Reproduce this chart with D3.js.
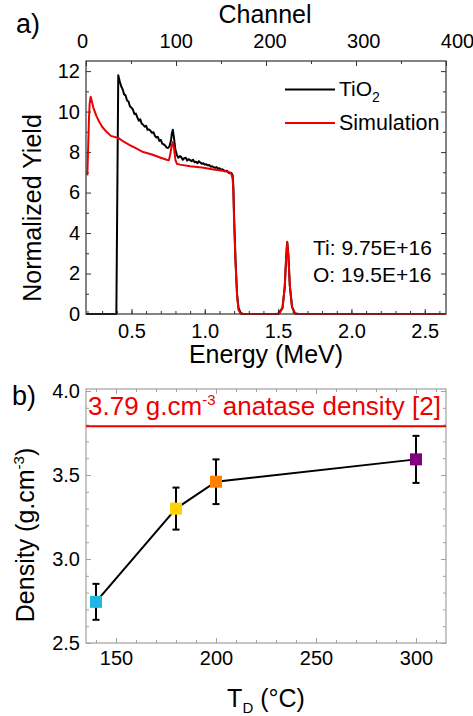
<!DOCTYPE html>
<html><head><meta charset="utf-8">
<script src="https://cdn.jsdelivr.net/npm/d3@7"></script>
<style>
body{margin:0;background:#fff}
text{font-family:"Liberation Sans",Arial,Helvetica,sans-serif}
</style>
</head><body>
<svg id="c" width="473" height="716"></svg>
<script>
// ---------- Panel a data ----------
const energyTiO2 = [0.19,0.397,0.41,0.42,0.43,0.44,0.45,0.46,0.47,0.48,0.49,0.50,0.51,0.52,0.53,0.54,0.55,0.56,0.57,0.58,0.59,0.60,0.61,0.62,0.63,0.64,0.65,0.66,0.67,0.68,0.69,0.70,0.71,0.72,0.73,0.74,0.75,0.76,0.77,0.775,0.782,0.79,0.80,0.81,0.82,0.83,0.84,0.85,0.86,0.87,0.88,0.89,0.90,0.91,0.92,0.93,0.94,0.95,0.96,0.97,0.98,0.99,1.00,1.01,1.02,1.03,1.04,1.05,1.06,1.07,1.08,1.09,1.10,1.11,1.12,1.13,1.14,1.15,1.16,1.17,1.18,1.19,1.195,1.20,1.21,1.22,1.23,1.245,1.26,1.50,1.53,1.545,1.555,1.562,1.57,1.58,1.595,1.615,1.64,2.645];
const yieldTiO2  = [0,0,11.8,11.5,11.25,11.1,10.85,10.8,10.55,10.5,10.25,10.2,10.1,9.88,9.9,9.72,9.55,9.62,9.4,9.35,9.25,9.3,9.1,9.12,9.05,8.95,8.98,8.8,8.72,8.75,8.55,8.6,8.42,8.38,8.32,8.22,8.2,8.3,8.6,8.9,9.1,8.7,8.1,7.85,7.72,7.8,7.75,7.62,7.7,7.72,7.58,7.65,7.6,7.55,7.62,7.5,7.52,7.45,7.55,7.48,7.42,7.45,7.38,7.4,7.35,7.36,7.28,7.3,7.25,7.22,7.26,7.18,7.2,7.12,7.15,7.1,7.05,7.08,7.0,6.95,6.98,6.85,6.3,4.8,2.6,1.0,0.3,0.05,0,0,0.3,1.3,2.8,3.55,2.9,1.4,0.35,0.03,0,0];

const energySim = [0.199,0.205,0.21,0.215,0.222,0.23,0.24,0.26,0.28,0.30,0.33,0.36,0.41,0.45,0.50,0.52,0.58,0.64,0.70,0.74,0.755,0.765,0.775,0.782,0.79,0.80,0.81,0.83,0.90,0.98,1.05,1.12,1.16,1.18,1.19,1.195,1.20,1.21,1.22,1.23,1.245,1.26,1.48,1.51,1.53,1.545,1.555,1.562,1.57,1.58,1.595,1.615,1.64,2.645];
const yieldSim  = [6.85,8.3,9.6,10.4,10.73,10.5,10.2,9.8,9.5,9.25,9.0,8.8,8.7,8.5,8.3,8.23,8.0,7.88,7.72,7.62,7.6,7.9,8.35,8.5,8.2,7.6,7.42,7.38,7.3,7.24,7.15,7.08,7.03,6.95,6.7,6.0,4.5,2.5,0.9,0.2,0.02,0,0,0.03,0.3,1.3,2.8,3.57,2.9,1.4,0.35,0.03,0,0];

const energyTicks = [0.5,1.0,1.5,2.0,2.5];
const channelTicks = [0,100,200,300,400];
const yieldTicks = [0,2,4,6,8,10,12];
const legendLabels = ["TiO", "Simulation"];
const annotLines = ["Ti: 9.75E+16", "O: 19.5E+16"];

// ---------- Panel b data ----------
const tempD = [140,180,200,300];
const density = [2.745,3.30,3.46,3.593];
const densityErr = [0.107,0.125,0.133,0.14];
const markerColors = ["#1fb6e3","#ffd200","#ff7f00","#800080"];
const anataseDensity = 3.79;
const tempTicks = [150,200,250,300];
const densityTicks = [2.5,3.0,3.5,4.0];

const svg = d3.select("#c");
const FONT_T = 20;

// ---------- Panel a ----------
const ax = {l:86, r:446, t:61, b:314};
const xE = d3.scaleLinear().domain([0.19,2.645]).range([ax.l, ax.r]);
const xCh = d3.scaleLinear().domain([0,400]).range([ax.l, ax.r]);
const xChLab = d3.scaleLinear().domain([0,400]).range([82,457]);
const yA = d3.scaleLinear().domain([0,12.5]).range([ax.b, ax.t]);

const ga = svg.append("g");
const frameA = "#333";

function styleAxis(g, col){
  g.select(".domain").remove();
  g.selectAll("line").attr("stroke", col).attr("stroke-width",1);
  g.selectAll("text").attr("font-size",FONT_T).attr("fill","#000")
   .attr("font-family",'"Liberation Sans",Arial,sans-serif');
}
// bottom energy axis
ga.append("g").attr("transform",`translate(0,${ax.b})`)
  .call(d3.axisBottom(xE).tickValues(d3.range(0.2,2.65,0.1)).tickSize(-3).tickFormat(""))
  .call(g=>styleAxis(g,frameA));
ga.append("g").attr("transform",`translate(0,${ax.b})`)
  .call(d3.axisBottom(xE).tickValues(energyTicks).tickSize(-5).tickPadding(10).tickFormat(d3.format(".1f")))
  .call(g=>styleAxis(g,frameA));
// top channel ticks
ga.append("g").attr("transform",`translate(0,${ax.t})`)
  .call(d3.axisTop(xCh).tickValues([50,150,250,350]).tickSize(-3).tickFormat(""))
  .call(g=>styleAxis(g,frameA));
ga.append("g").attr("transform",`translate(0,${ax.t})`)
  .call(d3.axisTop(xCh).tickValues(channelTicks).tickSize(-5).tickFormat(""))
  .call(g=>styleAxis(g,frameA));
ga.append("g").attr("transform",`translate(0,${ax.t})`)
  .call(d3.axisTop(xChLab).tickValues(channelTicks).tickSize(0).tickPadding(13))
  .call(g=>{styleAxis(g,frameA); g.selectAll("line").remove();});
// left / right y
ga.append("g").attr("transform",`translate(${ax.l},0)`)
  .call(d3.axisLeft(yA).tickValues([1,3,5,7,9,11]).tickSize(-3).tickFormat(""))
  .call(g=>styleAxis(g,frameA));
ga.append("g").attr("transform",`translate(${ax.l},0)`)
  .call(d3.axisLeft(yA).tickValues(yieldTicks).tickSize(-5).tickPadding(6).tickFormat(d3.format("d")))
  .call(g=>styleAxis(g,frameA));
ga.append("g").attr("transform",`translate(${ax.r},0)`)
  .call(d3.axisRight(yA).tickValues([1,3,5,7,9,11]).tickSize(-3).tickFormat(""))
  .call(g=>styleAxis(g,frameA));
ga.append("g").attr("transform",`translate(${ax.r},0)`)
  .call(d3.axisRight(yA).tickValues(yieldTicks).tickSize(-5).tickFormat(""))
  .call(g=>styleAxis(g,frameA));

const lineA = d3.line().x(d=>xE(d[0])).y(d=>yA(d[1]));
ga.append("path").datum(d3.zip(energyTiO2,yieldTiO2)).attr("d",lineA)
  .attr("fill","none").attr("stroke","#000").attr("stroke-width",2).attr("stroke-linejoin","round");
ga.append("path").datum(d3.zip(energySim,yieldSim)).attr("d",lineA)
  .attr("fill","none").attr("stroke","#ee0000").attr("stroke-width",2).attr("stroke-linejoin","round");

ga.append("rect").attr("x",ax.l).attr("y",ax.t).attr("width",ax.r-ax.l).attr("height",ax.b-ax.t)
  .attr("fill","none").attr("stroke",frameA).attr("stroke-width",1.2);

// legend
const leg = ga.append("g");
[["#000",89.5],["#ee0000",123]].forEach((c,i)=>{
  leg.append("line").attr("x1",285).attr("x2",335).attr("y1",c[1]).attr("y2",c[1])
    .attr("stroke",c[0]).attr("stroke-width",2);
});
const t1 = leg.append("text").attr("x",339).attr("y",96).attr("font-size",21).text(legendLabels[0]);
t1.append("tspan").attr("font-size",14).attr("dy",6).text("2");
leg.append("text").attr("x",339).attr("y",130).attr("font-size",21.5).text(legendLabels[1]);
annotLines.forEach((s,i)=>{
  ga.append("text").attr("x",313).attr("y",255+i*27).attr("font-size",21).text(s);
});

// titles
svg.append("text").attr("x",16).attr("y",33).attr("font-size",27).text("a)");
svg.append("text").attr("x",265).attr("y",23).attr("font-size",25).attr("text-anchor","middle").text("Channel");
svg.append("text").attr("x",266).attr("y",363).attr("font-size",25).attr("text-anchor","middle").text("Energy (MeV)");
svg.append("text").attr("transform","translate(41,208) rotate(-90)").attr("font-size",25)
  .attr("text-anchor","middle").text("Normalized Yield");

// ---------- Panel b ----------
const bx = {l:86, r:446, t:389, b:643};
const xT = d3.scaleLinear().domain([135,315]).range([bx.l,bx.r]);
const yD = d3.scaleLinear().domain([2.5,4.0]).range([bx.b,391]);
const gb = svg.append("g");
const frameB = "#a0a0a0";

gb.append("g").attr("transform",`translate(0,${bx.b})`)
  .call(d3.axisBottom(xT).tickValues(d3.range(140,315,10)).tickSize(-3).tickFormat(""))
  .call(g=>styleAxis(g,frameB));
gb.append("g").attr("transform",`translate(0,${bx.b})`)
  .call(d3.axisBottom(xT).tickValues(tempTicks).tickSize(-5).tickPadding(8).tickFormat(d3.format("d")))
  .call(g=>styleAxis(g,frameB));
gb.append("g").attr("transform",`translate(0,${bx.t})`)
  .call(d3.axisTop(xT).tickValues(d3.range(140,315,10)).tickSize(-3).tickFormat(""))
  .call(g=>styleAxis(g,frameB));
gb.append("g").attr("transform",`translate(0,${bx.t})`)
  .call(d3.axisTop(xT).tickValues(tempTicks).tickSize(-5).tickFormat(""))
  .call(g=>styleAxis(g,frameB));
const yMinor = d3.range(2.6,4.0,0.1).filter(v=>Math.abs(v*2-Math.round(v*2))>0.01);
gb.append("g").attr("transform",`translate(${bx.l},0)`)
  .call(d3.axisLeft(yD).tickValues(yMinor).tickSize(-3).tickFormat(""))
  .call(g=>styleAxis(g,frameB));
gb.append("g").attr("transform",`translate(${bx.l},0)`)
  .call(d3.axisLeft(yD).tickValues(densityTicks).tickSize(-5).tickPadding(6).tickFormat(d3.format(".1f")))
  .call(g=>styleAxis(g,frameB));
gb.append("g").attr("transform",`translate(${bx.r},0)`)
  .call(d3.axisRight(yD).tickValues(yMinor).tickSize(-3).tickFormat(""))
  .call(g=>styleAxis(g,frameB));
gb.append("g").attr("transform",`translate(${bx.r},0)`)
  .call(d3.axisRight(yD).tickValues(densityTicks).tickSize(-5).tickFormat(""))
  .call(g=>styleAxis(g,frameB));

gb.append("rect").attr("x",bx.l).attr("y",bx.t).attr("width",bx.r-bx.l).attr("height",bx.b-bx.t)
  .attr("fill","none").attr("stroke",frameB).attr("stroke-width",1.2);

// anatase line
gb.append("line").attr("x1",bx.l).attr("x2",bx.r).attr("y1",yD(anataseDensity)).attr("y2",yD(anataseDensity))
  .attr("stroke","#ee0000").attr("stroke-width",2);
const rl = gb.append("text").attr("x",88).attr("y",415).attr("font-size",26).attr("fill","#ee0000").text("3.79 g.cm");
rl.append("tspan").attr("font-size",15).attr("dy",-10).text("-3");
rl.append("tspan").attr("dy",10).text(" anatase density [2]");

const ptsB = d3.zip(tempD,density,densityErr,markerColors);
gb.append("path").datum(ptsB).attr("d",d3.line().x(d=>xT(d[0])).y(d=>yD(d[1])))
  .attr("fill","none").attr("stroke","#000").attr("stroke-width",2);
const eb = gb.selectAll(".eb").data(ptsB).join("g");
eb.append("line").attr("x1",d=>xT(d[0])).attr("x2",d=>xT(d[0]))
  .attr("y1",d=>yD(d[1]-d[2])).attr("y2",d=>yD(d[1]+d[2])).attr("stroke","#000").attr("stroke-width",2);
[-1,1].forEach(s=>{
  eb.append("line").attr("x1",d=>xT(d[0])-3.5).attr("x2",d=>xT(d[0])+3.5)
    .attr("y1",d=>yD(d[1]+s*d[2])).attr("y2",d=>yD(d[1]+s*d[2])).attr("stroke","#000").attr("stroke-width",2);
});
eb.append("rect").attr("x",d=>xT(d[0])-6).attr("y",d=>yD(d[1])-6).attr("width",12).attr("height",12)
  .attr("fill",d=>d[3]);

svg.append("text").attr("x",12).attr("y",405).attr("font-size",27).text("b)");
const dt = svg.append("text").attr("transform","translate(34,535) rotate(-90)").attr("font-size",25)
  .attr("text-anchor","middle").text("Density (g.cm");
dt.append("tspan").attr("font-size",15).attr("dy",-10).text("-3");
dt.append("tspan").attr("dy",10).text(")");
const tt = svg.append("text").attr("x",266).attr("y",707).attr("font-size",25).attr("text-anchor","middle").text("T");
tt.append("tspan").attr("font-size",15).attr("dy",6).text("D");
tt.append("tspan").attr("dy",-6).text(" (°C)");
</script>
</body></html>
